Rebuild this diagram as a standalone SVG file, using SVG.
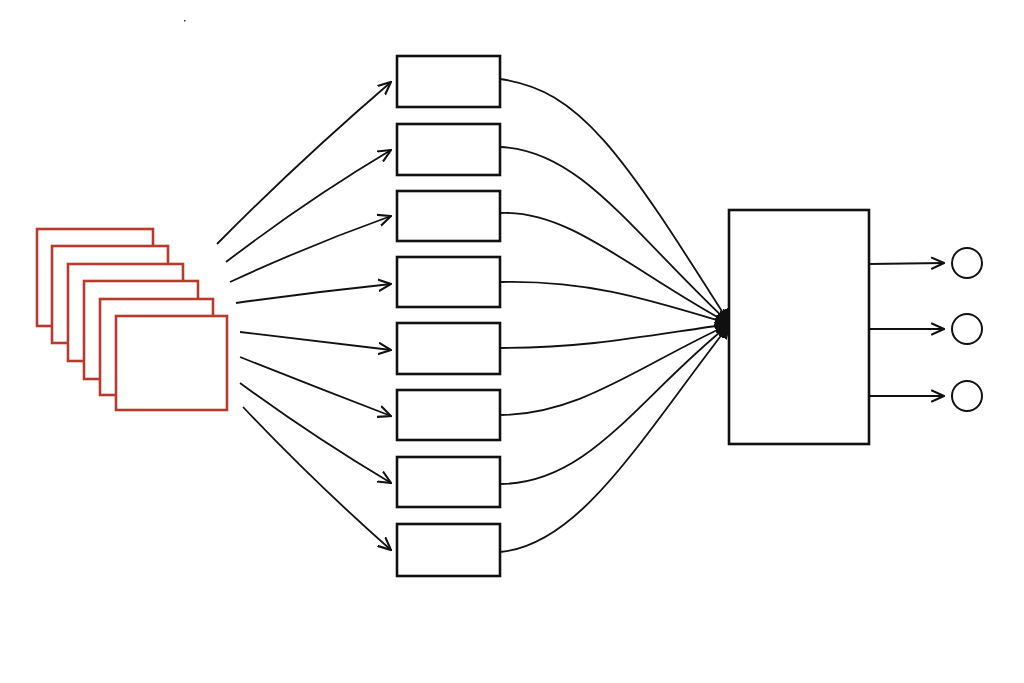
<svg xmlns="http://www.w3.org/2000/svg" width="1024" height="683" viewBox="0 0 1024 683">
<style>
.red{fill:#fff;stroke:#b83a2c;stroke-width:2.6}
.box{fill:#fff;stroke:#111;stroke-width:2.6}
.c{fill:none;stroke:#111;stroke-width:1.8}
</style>
<defs>
<marker id="ah" viewBox="0 0 12 12" refX="11" refY="6" markerWidth="14" markerHeight="14" markerUnits="userSpaceOnUse" orient="auto">
<path d="M0,1 L11,6 L0,11" fill="none" stroke="#111" stroke-width="1.8"/>
</marker>
<marker id="ah2" viewBox="0 0 12 12" refX="11" refY="6" markerWidth="16" markerHeight="16" markerUnits="userSpaceOnUse" orient="auto">
<path d="M0,1.5 L11,6 L0,10.5 Z" fill="#111" stroke="#111" stroke-width="1.5"/>
</marker>
</defs>
<rect width="1024" height="683" fill="#fff"/>
<rect x="184" y="20" width="1.5" height="1.5" fill="#333"/>
<g id="frames">
<rect class="red" x="37" y="229" width="116" height="97"/>
<rect class="red" x="52" y="246" width="116" height="97"/>
<rect class="red" x="68" y="264" width="115" height="97"/>
<rect class="red" x="84" y="281" width="114" height="98"/>
<rect class="red" x="100" y="299" width="113" height="96"/>
<rect class="red" x="116" y="316" width="111" height="94"/>
</g>
<g id="connectors">
<path class="c" marker-end="url(#ah)" d="M217,244 Q298,162 391,82"/>
<path class="c" marker-end="url(#ah)" d="M226,262 Q307,200 391,150"/>
<path class="c" marker-end="url(#ah)" d="M230,282 Q310,245 391,216"/>
<path class="c" marker-end="url(#ah)" d="M236,303 Q315,292 391,284"/>
<path class="c" marker-end="url(#ah)" d="M240,332 Q315,341 391,350"/>
<path class="c" marker-end="url(#ah)" d="M240,357 Q315,387 391,416"/>
<path class="c" marker-end="url(#ah)" d="M240,383 Q312,436 391,483"/>
<path class="c" marker-end="url(#ah)" d="M243,407 Q314,482 391,550"/>
<path class="c" marker-end="url(#ah2)" d="M500,79 C580,90 620,150 730,324"/>
<path class="c" marker-end="url(#ah2)" d="M500,147 C580,150 630,230 730,324"/>
<path class="c" marker-end="url(#ah2)" d="M500,213 C570,210 630,270 730,324"/>
<path class="c" marker-end="url(#ah2)" d="M500,282 C590,280 650,300 730,324"/>
<path class="c" marker-end="url(#ah2)" d="M500,348 C590,348 650,335 730,324"/>
<path class="c" marker-end="url(#ah2)" d="M500,415 C580,415 640,365 730,324"/>
<path class="c" marker-end="url(#ah2)" d="M500,484 C590,484 640,395 730,324"/>
<path class="c" marker-end="url(#ah2)" d="M500,552 C580,545 640,440 730,324"/>
<path class="c" marker-end="url(#ah)" d="M869,264 L944,263"/>
<path class="c" marker-end="url(#ah)" d="M869,329 L944,329"/>
<path class="c" marker-end="url(#ah)" d="M869,396 L944,396"/>
</g>
<g id="f1"><rect class="box" x="397" y="56" width="103" height="51"/></g>
<g id="f2"><rect class="box" x="397" y="124" width="103" height="51"/></g>
<g id="f3"><rect class="box" x="397" y="191" width="103" height="50"/></g>
<g id="f4"><rect class="box" x="397" y="257" width="103" height="50"/></g>
<g id="f5"><rect class="box" x="397" y="323" width="103" height="51"/></g>
<g id="f6"><rect class="box" x="397" y="390" width="103" height="50"/></g>
<g id="f7"><rect class="box" x="397" y="457" width="103" height="50"/></g>
<g id="f8"><rect class="box" x="397" y="524" width="103" height="52"/></g>
<g id="agg"><rect class="box" x="729" y="210" width="140" height="234"/></g>
<g id="o1"><circle cx="967" cy="263" r="15" fill="#fff" stroke="#111" stroke-width="2"/></g>
<g id="o2"><circle cx="967" cy="329" r="15" fill="#fff" stroke="#111" stroke-width="2"/></g>
<g id="o3"><circle cx="967" cy="396" r="15" fill="#fff" stroke="#111" stroke-width="2"/></g>
</svg>
